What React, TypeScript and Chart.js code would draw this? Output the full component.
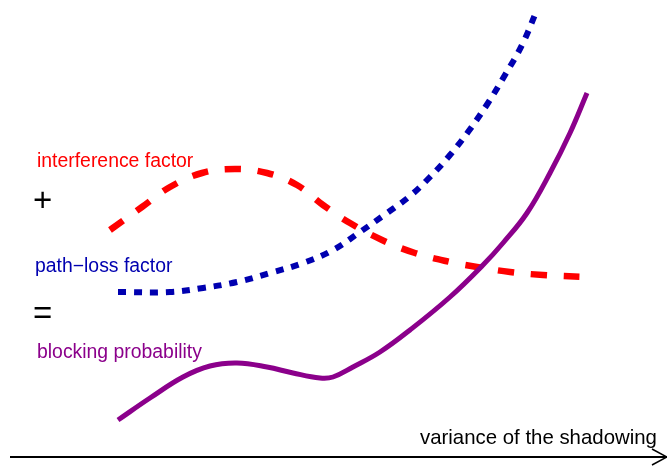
import React, { useEffect, useRef } from "react";
import { Chart, registerables } from "chart.js";

Chart.register(...registerables);

// Abstract units: x = shadowing variance, y = factor level
const interferenceX = [11.0, 14.2, 17.0, 20.2, 23.5, 26.7, 29.7, 32.3, 35.0, 38.2, 41.5, 45.0, 47.7, 51.0, 54.3, 58.5];
const interferenceY = [23.6, 25.9, 27.9, 29.3, 29.7, 29.3, 28.1, 26.1, 24.3, 22.6, 21.3, 20.4, 19.9, 19.4, 19.1, 18.9];

const pathLossX = [11.8, 17.0, 20.3, 23.7, 27.0, 30.3, 33.3, 36.0, 38.7, 41.0, 43.0, 45.0, 46.8, 48.8, 50.5, 52.2, 53.7];
const pathLossY = [17.4, 17.4, 17.8, 18.4, 19.3, 20.3, 21.6, 23.4, 25.3, 27.0, 28.9, 31.1, 33.4, 36.3, 39.1, 42.1, 45.6];

const blockingX = [11.8, 15.0, 18.3, 21.0, 23.7, 26.7, 29.3, 32.0, 33.3, 35.3, 38.0, 41.0, 45.0, 48.3, 50.3, 52.7, 55.0, 57.0, 58.7];
const blockingY = [4.6, 6.8, 8.9, 10.0, 10.3, 9.9, 9.3, 8.8, 8.9, 9.9, 11.4, 13.6, 16.9, 20.1, 22.3, 25.3, 29.3, 33.3, 37.3];

const labels = ["interference factor", "+", "path\u2212loss factor", "=", "blocking probability"];
const axisLabel = "variance of the shadowing";

const toPts = (xs: number[], ys: number[]) => xs.map((x, i) => ({ x, y: ys[i] }));

const annotations = {
  id: "annotations",
  afterDraw(chart: any) {
    const ctx = chart.ctx;
    ctx.save();
    // axis arrow
    ctx.strokeStyle = "#000";
    ctx.lineWidth = 2;
    ctx.beginPath();
    ctx.moveTo(10, 457);
    ctx.lineTo(667, 457);
    ctx.stroke();
    ctx.lineWidth = 1.5;
    ctx.beginPath();
    ctx.moveTo(652, 449);
    ctx.lineTo(667, 457);
    ctx.lineTo(652, 465);
    ctx.stroke();

    ctx.textBaseline = "alphabetic";
    ctx.textAlign = "left";
    ctx.font = "19.4px 'Liberation Sans', Arial, sans-serif";
    ctx.fillStyle = "#ff0000";
    ctx.fillText(labels[0], 37, 167);
    ctx.fillStyle = "#0000b0";
    ctx.fillText(labels[2], 35, 272);
    ctx.fillStyle = "#8b008b";
    ctx.fillText(labels[4], 37, 358);
    ctx.fillStyle = "#000";
    ctx.font = "20.4px 'Liberation Sans', Arial, sans-serif";
    ctx.fillText(axisLabel, 420, 444);
    ctx.font = "33px 'Liberation Sans', Arial, sans-serif";
    ctx.fillText(labels[1], 33, 211);
    ctx.fillText(labels[3], 33, 324);
    ctx.restore();
  },
};

export default function App() {
  const ref = useRef<HTMLCanvasElement>(null);
  useEffect(() => {
    if (!ref.current) return;
    const chart = new Chart(ref.current, {
      type: "line",
      data: {
        datasets: [
          {
            label: "blocking probability",
            data: toPts(blockingX, blockingY),
            borderColor: "#8b008b",
            borderWidth: 5,
            pointRadius: 0,
            tension: 0.4,
            fill: false,
            order: 0,
          },
          {
            label: "path-loss factor",
            data: toPts(pathLossX, pathLossY),
            borderColor: "#0000b0",
            borderWidth: 6,
            borderDash: [8, 8],
            borderCapStyle: "butt",
            pointRadius: 0,
            tension: 0.4,
            fill: false,
            order: 1,
          },
          {
            label: "interference factor",
            data: toPts(interferenceX, interferenceY),
            borderColor: "#ff0000",
            borderWidth: 6.5,
            borderDash: [16, 17],
            borderCapStyle: "butt",
            pointRadius: 0,
            tension: 0.4,
            fill: false,
            order: 2,
          },
        ],
      },
      options: {
        animation: false,
        responsive: false,
        layout: { padding: 0 },
        plugins: { legend: { display: false }, tooltip: { enabled: false } },
        scales: {
          x: { type: "linear", min: 0, max: 66.7, display: false },
          y: { type: "linear", min: 0, max: 46.6, display: false },
        },
      },
      plugins: [annotations],
    });
    return () => chart.destroy();
  }, []);
  return (
    <div style={{ position: "fixed", left: 0, top: 0, width: 667, height: 466, background: "#fff" }}>
      <canvas ref={ref} width={667} height={466} style={{ display: "block" }} />
    </div>
  );
}
